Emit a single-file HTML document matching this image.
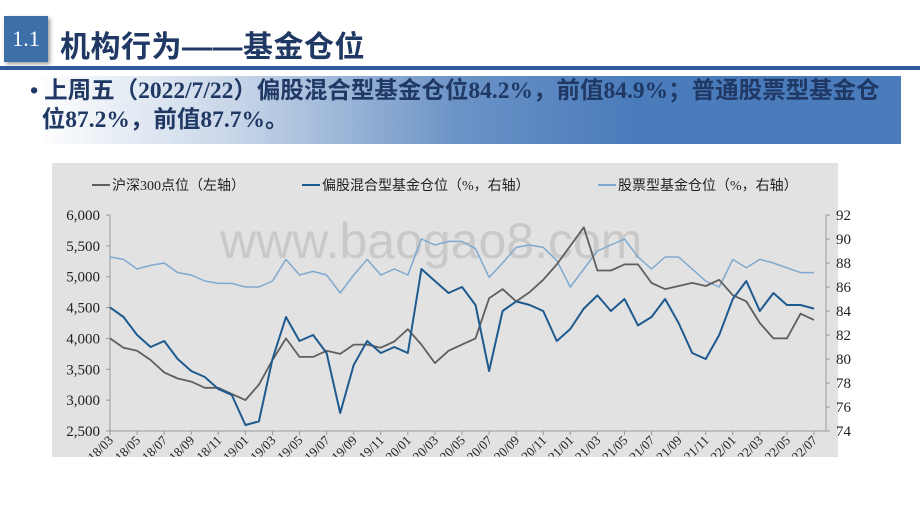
<!DOCTYPE html>
<html><head><meta charset="utf-8"><style>
body{margin:0;width:920px;height:518px;background:#fff;overflow:hidden;position:relative;font-family:"Liberation Serif","Noto Serif CJK SC",serif}
#numbox{position:absolute;left:4px;top:16px;width:44px;height:46px;background:#3f6fa8;color:#fff;font-size:22px;text-align:center;line-height:46px;box-shadow:2px 2px 4px #999}
#title{position:absolute;left:60px;top:22px;font-family:"Liberation Sans","Noto Sans CJK SC",sans-serif;font-size:30px;font-weight:bold;color:#1f3864;letter-spacing:0.5px}
#rule{position:absolute;left:0;top:66px;width:920px;height:4px;background:#2e5c9a}
#sub{position:absolute;left:16px;top:76px;width:885px;height:68px;background:linear-gradient(90deg,#fff 2%,#c7d5e8 25%,#6b93c6 50%,#4a7bbb 70%,#4a7bbb)}
#subt{position:absolute;left:30px;top:77px;width:890px;font-size:23.5px;font-weight:bold;color:#1f3864;line-height:29px;white-space:nowrap;font-family:"Liberation Serif","Noto Sans CJK SC",serif}
#chart{position:absolute;left:52px;top:163px}
</style></head><body>
<div id="numbox">1.1</div>
<div id="title">机构行为——基金仓位</div>
<div id="rule"></div>
<div id="sub"></div>
<div id="subt">• 上周五（2022/7/22）偏股混合型基金仓位84.2%，前值84.9%；普通股票型基金仓<br>&nbsp;&nbsp;位87.2%，前值87.7%。</div>
<svg id="chart" width="830" height="294"></svg>
<script>
const months=["18/03","18/04","18/05","18/06","18/07","18/08","18/09","18/10","18/11","18/12","19/01","19/02","19/03","19/04","19/05","19/06","19/07","19/08","19/09","19/10","19/11","19/12","20/01","20/02","20/03","20/04","20/05","20/06","20/07","20/08","20/09","20/10","20/11","20/12","21/01","21/02","21/03","21/04","21/05","21/06","21/07","21/08","21/09","21/10","21/11","21/12","22/01","22/02","22/03","22/04","22/05","22/06","22/07"];
const csi300=[4000,3850,3800,3650,3450,3350,3300,3200,3200,3100,3000,3250,3650,4000,3700,3700,3800,3750,3900,3900,3850,3950,4150,3900,3600,3800,3900,4000,4650,4800,4600,4750,4950,5200,5500,5800,5100,5100,5200,5200,4900,4800,4850,4900,4850,4950,4700,4600,4250,4000,4000,4400,4300];
const mixedFund=[84.3,83.5,82,81,81.5,80,79,78.5,77.5,77,74.5,74.8,80,83.5,81.5,82,80.5,75.5,79.5,81.5,80.5,81,80.5,87.5,86.5,85.5,86,84.5,79,84,84.8,84.5,84,81.5,82.5,84.2,85.3,84,85,82.8,83.5,85,83,80.5,80,82,85,86.5,84,85.5,84.5,84.5,84.2];
const stockFund=[88.5,88.3,87.5,87.8,88,87.2,87,86.5,86.3,86.3,86,86,86.5,88.3,87,87.3,87,85.5,87,88.3,87,87.5,87,90,89.5,89.8,89.8,89.2,86.8,88,89.3,89.5,89.3,88.2,86,87.5,89,89.5,90,88.5,87.5,88.5,88.5,87.5,86.5,86,88.3,87.6,88.3,88,87.6,87.2,87.2];
const leftTicks=[2500,3000,3500,4000,4500,5000,5500,6000];
const rightTicks=[74,76,78,80,82,84,86,88,90,92];
const NS="http://www.w3.org/2000/svg";
const svg=document.getElementById('chart');
const OX=52,OY=163;
function mk(t,a,txt){const e=document.createElementNS(NS,t);for(const k in a)e.setAttribute(k,a[k]);if(txt!=null)e.textContent=txt;svg.appendChild(e);return e;}
const x0=110-OX,x1=814-OX,yT=215-OY,yB=431-OY,rX=826-OX;
const xs=i=>x0+(x1-x0)*i/(months.length-1);
const yl=v=>yB-(v-2500)/3500*(yB-yT);
const yr=v=>yB-(v-74)/18*(yB-yT);
let bg=mk('rect',{x:0,y:0,width:786,height:294,fill:'#e2e2e2'});


let wm=mk('text',{x:220-OX,y:258-OY,'font-size':50,fill:'#c9c9c9','font-family':'Liberation Sans,sans-serif'},'www.baogao8.com');


let la=mk('line',{x1:x0,y1:yT,x2:x0,y2:yB,stroke:'#999'});


let ra=mk('line',{x1:rX,y1:yT,x2:rX,y2:yB,stroke:'#999'});


let xa=mk('line',{x1:x0,y1:yB,x2:rX,y2:yB,stroke:'#999'});


leftTicks.forEach(v=>{
 let t=mk('text',{x:x0-10,y:yl(v)+5,'text-anchor':'end','font-size':15,fill:'#222'},v.toLocaleString('en-US'));
 
 
 mk('line',{x1:x0-4,y1:yl(v),x2:x0,y2:yl(v),stroke:'#999'});
});
rightTicks.forEach(v=>{
 let t=mk('text',{x:rX+10,y:yr(v)+5,'font-size':15,fill:'#222'},v);
 
 
 mk('line',{x1:rX,y1:yr(v),x2:rX+4,y2:yr(v),stroke:'#999'});
});
months.forEach((m,i)=>{
 if(i%2)return;
 const x=xs(i);
 mk('line',{x1:x,y1:yB,x2:x,y2:yB+4,stroke:'#999'});
 let t=mk('text',{x:x+4,y:yB+10,'text-anchor':'end','font-size':13,fill:'#222',transform:`rotate(-45 ${x+4} ${yB+10})`},m);
 
 
});
function line(arr,f,col,w,name){
 const d=arr.map((v,i)=>(i?'L':'M')+xs(i).toFixed(1)+','+f(v).toFixed(1)).join('');
 const p=mk('path',{d:d,fill:'none',stroke:col,'stroke-width':w,'stroke-linejoin':'round'});
 
 
}
line(stockFund,yr,'#7fa9cf',1.5,'stock-fund-line');
line(csi300,yl,'#5f5f5f',1.8,'csi300-line');
line(mixedFund,yr,'#1f5a8f',2,'mixed-fund-line');
const leg=[['沪深300点位（左轴）','#5f5f5f',92],['偏股混合型基金仓位（%，右轴）','#1f5a8f',302],['股票型基金仓位（%，右轴）','#7fa9cf',598]];
leg.forEach(l=>{
 mk('line',{x1:l[2]-OX,y1:185-OY,x2:l[2]-OX+18,y2:185-OY,stroke:l[1],'stroke-width':2});
 let t=mk('text',{x:l[2]-OX+20,y:190-OY,'font-size':14,fill:'#222','font-family':'Liberation Serif,Noto Sans CJK SC,serif'},l[0]);
 
 
});
</script>
</body></html>
